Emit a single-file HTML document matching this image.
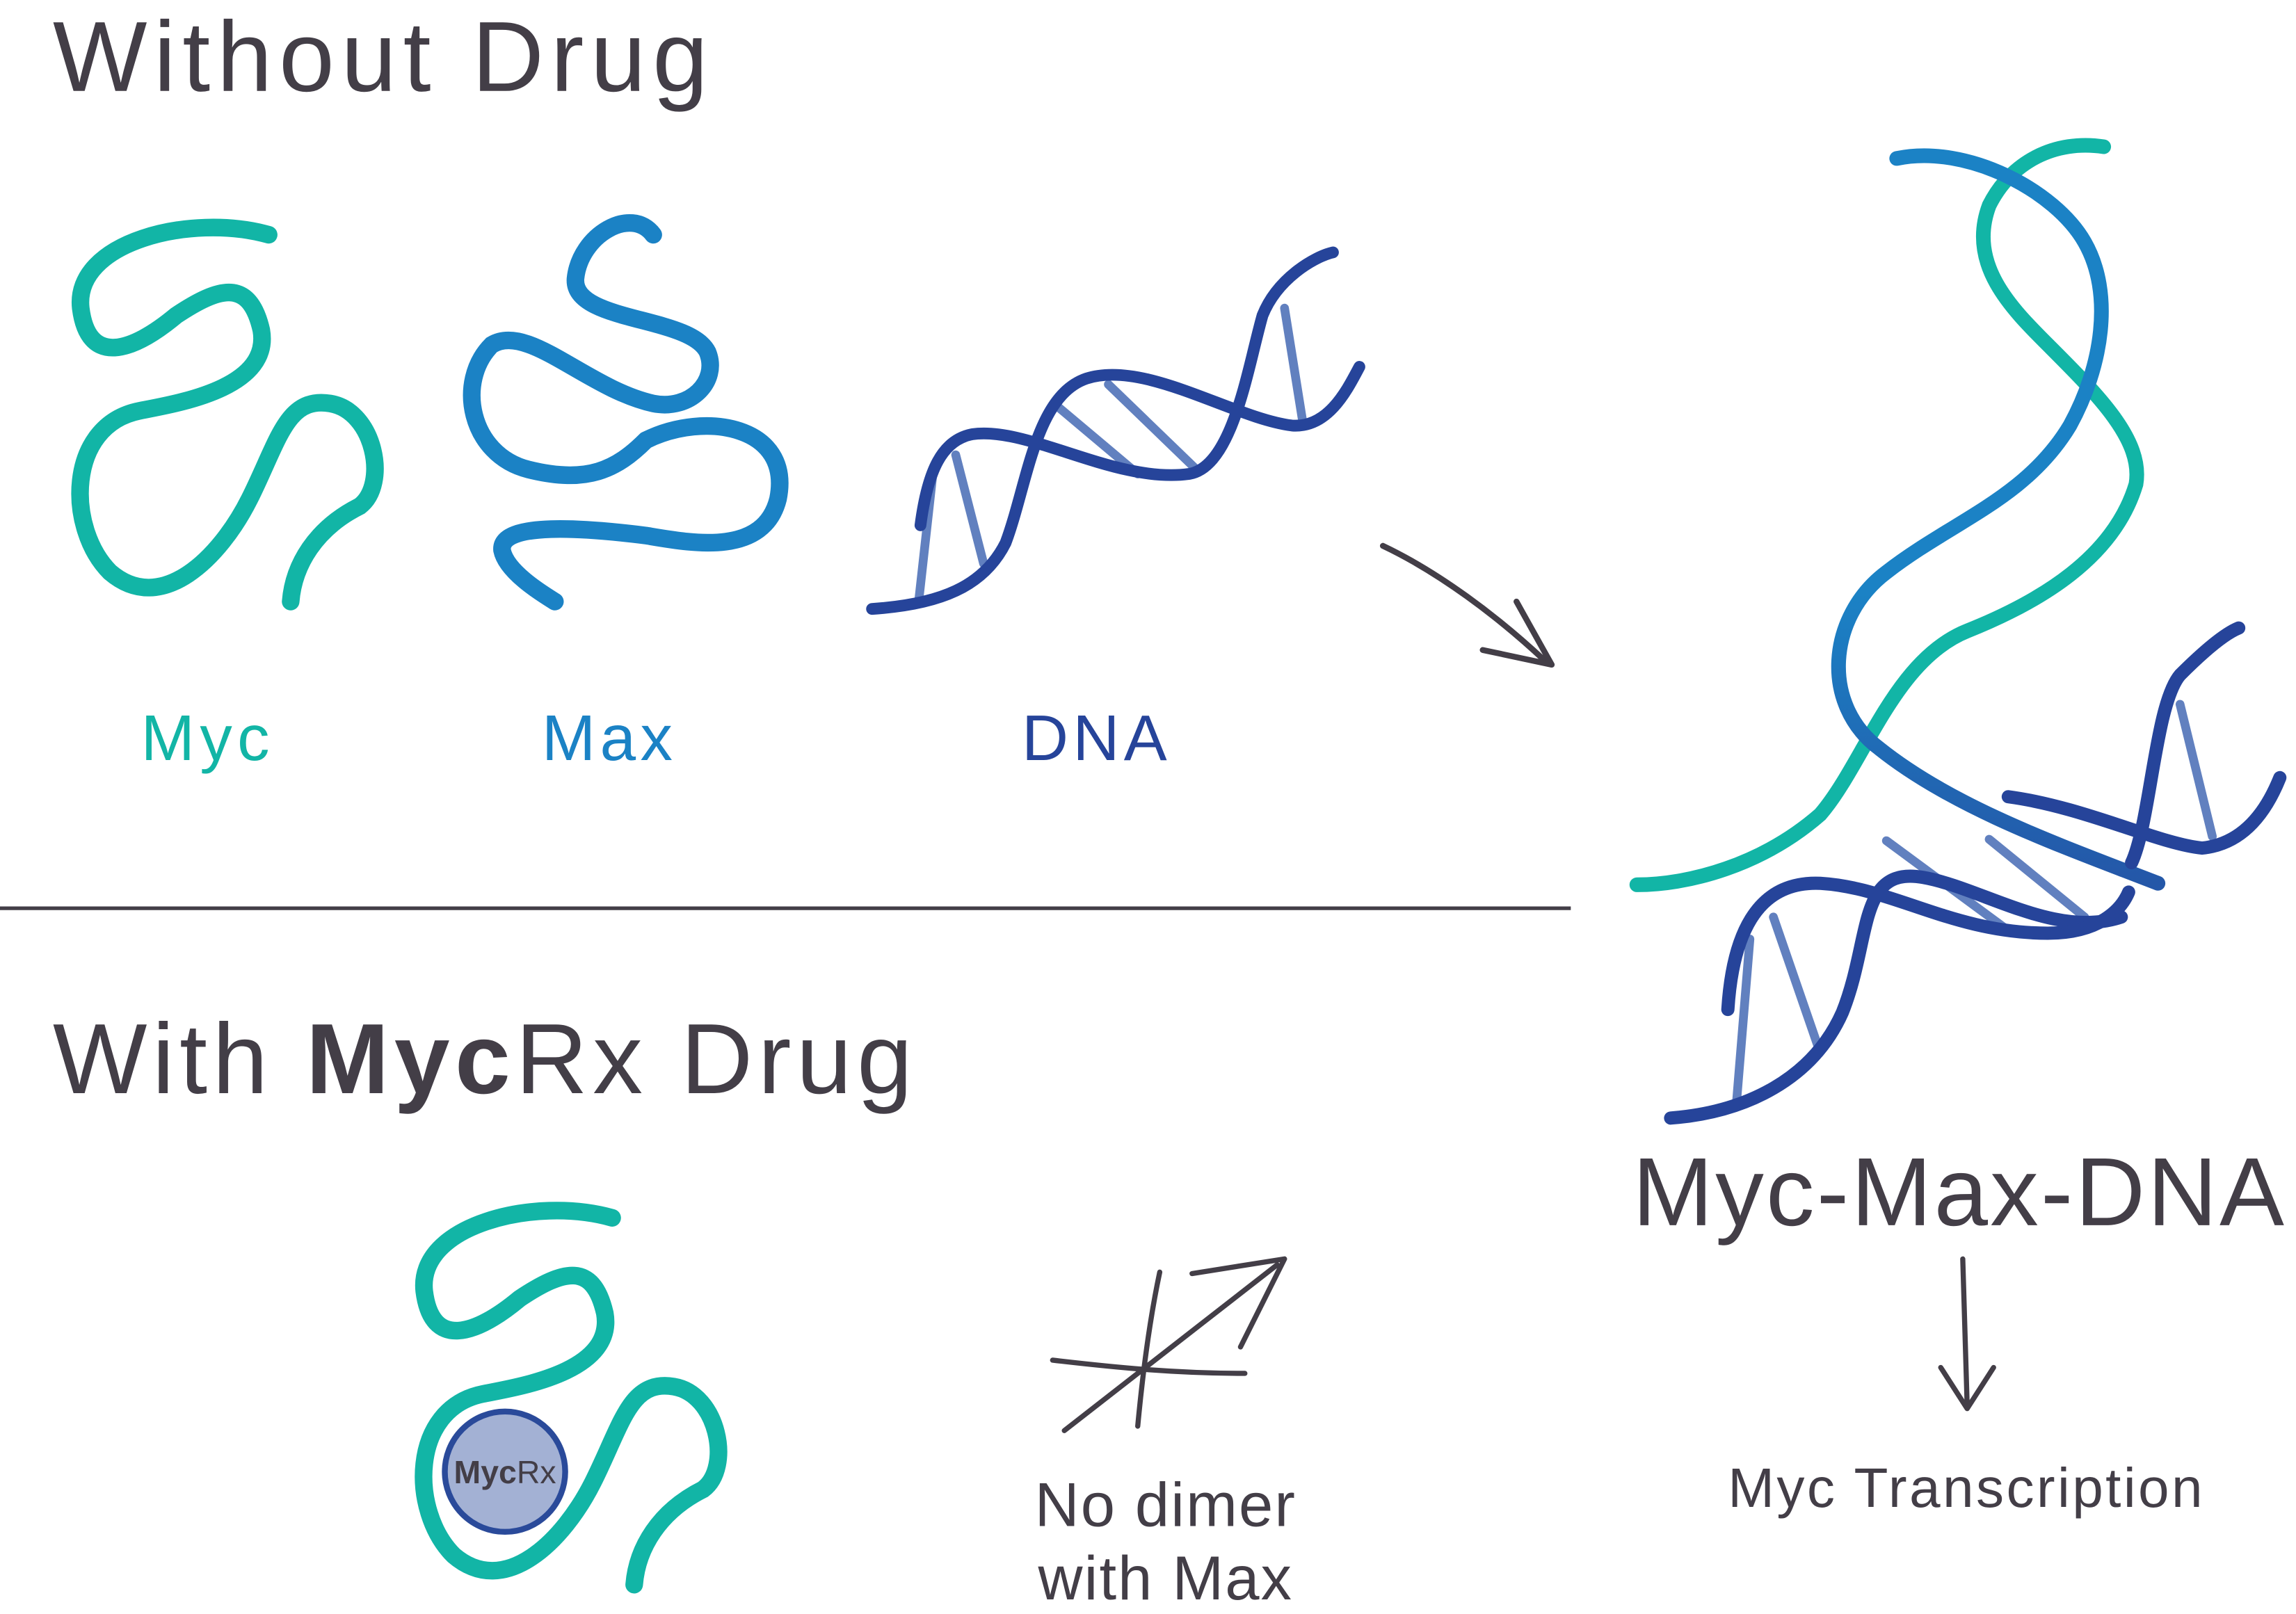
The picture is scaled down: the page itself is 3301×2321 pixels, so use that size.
<!DOCTYPE html>
<html><head><meta charset="utf-8"><style>
html,body{margin:0;padding:0;background:#fff;}
svg{display:block;}
text{font-family:"Liberation Sans",sans-serif;}
</style></head><body>
<svg width="3301" height="2321" viewBox="0 0 1564 1100" preserveAspectRatio="none" xmlns="http://www.w3.org/2000/svg">
<defs>
<linearGradient id="g1" x1="0" y1="0" x2="0" y2="1"><stop offset="0" stop-color="#1b82c5"/><stop offset="0.6" stop-color="#1b82c5"/><stop offset="1" stop-color="#2457a8"/></linearGradient>
</defs>
<g fill="none" stroke-linecap="round">
<path d="M183,160 C130,145 50,165 55,210 C60,250 90,240 120,215 C150,195 170,190 178,225 C185,265 120,275 95,280 C45,290 45,360 75,390 C110,420 150,380 170,340 C190,300 195,270 225,275 C255,280 265,330 245,345 C215,360 200,385 198,410" stroke="#12b5a6" stroke-width="12"/>
<path d="M445,160 C430,140 395,160 392,190 C390,220 470,215 482,240 C490,260 470,280 445,275 C400,265 360,220 335,235 C310,260 320,310 360,320 C400,330 420,320 440,300 C480,280 540,290 530,340 C520,380 470,370 440,365 C400,360 340,355 342,375 C345,390 370,405 378,410" stroke="#1b82c5" stroke-width="12"/>
<g stroke="#6180bf" stroke-width="6">
<line x1="626" y1="408" x2="636" y2="318"/><line x1="651" y1="310" x2="670" y2="384"/>
<line x1="718" y1="275" x2="775" y2="323"/><line x1="755" y1="262" x2="815" y2="320"/>
<line x1="875" y1="210" x2="887" y2="285"/>
</g>
<g stroke="#26449a" stroke-width="8">
<path d="M594,415 C640,412 670,400 685,370 C700,330 705,270 740,258 C780,245 840,285 880,290 C905,292 918,265 926,250"/>
<path d="M627,358 C632,320 642,300 662,296 C700,290 760,330 810,323 C840,318 850,250 860,215 C870,190 895,175 908,172"/>
</g>
<path d="M942,372 C980,390 1020,420 1052,450" stroke="#433e47" stroke-width="4"/>
<path d="M1010,443 L1057,453 L1033,410" stroke="#433e47" stroke-width="4" stroke-linejoin="round"/>
<path d="M1433,100 C1400,95 1370,110 1355,140 C1340,180 1370,210 1395,235 C1430,270 1460,300 1455,330 C1440,380 1390,410 1340,430 C1290,450 1270,520 1240,555 C1200,590 1150,603 1115,603" stroke="#12b5a6" stroke-width="10"/>
<path d="M1292,108 C1340,98 1400,130 1420,165 C1440,200 1432,250 1410,290 C1380,340 1330,355 1285,390 C1245,420 1240,480 1280,510 C1330,550 1400,575 1470,602" stroke="url(#g1)" stroke-width="10"/>
<g stroke="#6180bf" stroke-width="6">
<line x1="1183" y1="750" x2="1192" y2="640"/><line x1="1208" y1="625" x2="1238" y2="712"/>
<line x1="1285" y1="573" x2="1365" y2="632"/><line x1="1355" y1="572" x2="1420" y2="625"/>
<line x1="1485" y1="480" x2="1507" y2="570"/>
</g>
<g stroke="#26449a" stroke-width="9">
<path d="M1138,762 C1190,758 1235,735 1255,690 C1275,640 1265,590 1310,598 C1350,605 1400,640 1445,625"/>
<path d="M1177,688 C1180,640 1195,600 1240,602 C1290,605 1330,636 1395,636 C1430,636 1445,620 1450,608"/>
<path d="M1368,543 C1420,550 1470,575 1500,578 C1530,575 1545,550 1553,530"/>
<path d="M1452,588 C1465,560 1468,480 1485,460 C1500,445 1515,432 1525,428"/>
</g>
<path d="M1337,858 C1338,890 1339,925 1340,958" stroke="#433e47" stroke-width="3.5"/>
<path d="M1322,932 L1340,960 L1358,932" stroke="#433e47" stroke-width="3.5" stroke-linejoin="round"/>
<line x1="0" y1="619" x2="1070" y2="619" stroke="#433e47" stroke-width="2.5" stroke-linecap="butt"/>
<path d="M417,830 C364,815 284,835 289,880 C294,920 324,910 354,885 C384,865 404,860 412,895 C419,935 354,945 329,950 C279,960 279,1030 309,1060 C344,1090 384,1050 404,1010 C424,970 429,940 459,945 C489,950 499,1000 479,1015 C449,1030 434,1055 432,1080" stroke="#12b5a6" stroke-width="12"/>
<path d="M725,975 L870,862" stroke="#433e47" stroke-width="3.5"/>
<path d="M812,868 L875,858 L845,918" stroke="#433e47" stroke-width="3.5" stroke-linejoin="round"/>
<path d="M717,927 C760,932 800,936 848,936" stroke="#433e47" stroke-width="3.5"/>
<path d="M790,867 C783,900 778,940 775,972" stroke="#433e47" stroke-width="3.5"/>
</g>
<circle cx="344" cy="1003" r="41" fill="#a3b1d4" stroke="#2a4a9a" stroke-width="4"/>
<text x="344" y="1011" font-size="22" fill="#433e47" text-anchor="middle"><tspan font-weight="bold">Myc</tspan>Rx</text>
<g fill="#433e47">
<text x="36" y="62" font-size="68" letter-spacing="4.5">Without Drug</text>
<text x="36" y="745" font-size="68" letter-spacing="3.5">With <tspan font-weight="bold">Myc</tspan>Rx Drug</text>
<text x="1112" y="835" font-size="66" letter-spacing="1.5">Myc-Max-DNA</text>
<text x="1177" y="1027" font-size="38" letter-spacing="1.6">Myc Transcription</text>
<text x="794" y="1040" font-size="42" letter-spacing="1" text-anchor="middle">No dimer</text>
<text x="794" y="1090" font-size="42" letter-spacing="1" text-anchor="middle">with Max</text>
</g>
<text x="96" y="518" font-size="44" letter-spacing="3.5" fill="#12b5a6">Myc</text>
<text x="369" y="518" font-size="44" letter-spacing="3" fill="#1b82c5">Max</text>
<text x="696" y="518" font-size="44" letter-spacing="3" fill="#26449a">DNA</text>
</svg>
</body></html>
